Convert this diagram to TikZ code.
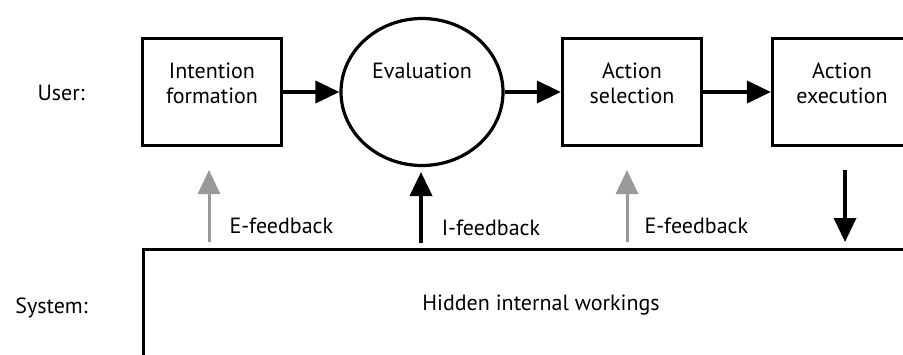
\documentclass[tikz,border=0pt]{standalone}
\usepackage{fontspec}
\setmainfont{PT Sans}
\usepackage{xcolor}
\usepackage{tikz}
\usetikzlibrary{shapes.geometric, arrows.meta, positioning}
\definecolor{fbgrey}{gray}{0.6}
\tikzstyle{stage} = [rectangle, minimum width=69.5pt, minimum height=53.5pt, text height=20.5pt, text depth=9.5pt, align=center, line width=1.6pt, draw=black]
\tikzstyle{judge} = [ellipse, minimum width=81pt, minimum height=73.5pt, text height=8pt, text depth=22pt, align=center, line width=1.6pt, draw=black]
\tikzstyle{hostbox} = [rectangle, anchor=north west, minimum width=450pt, minimum height=100pt, line width=1.6pt, draw=black]
\tikzstyle{rowlabel} = [anchor=base east, inner sep=0pt]
\tikzstyle{arrow} = [line width=1.8pt, -{Triangle[length=12pt, width=11pt]}]
\tikzstyle{fbarrow} = [line width=1.5pt, color=fbgrey, -{Triangle[length=12pt, width=11pt]}]
\tikzstyle{fblabel} = [anchor=base west, inner sep=0pt, xshift=9.5pt, text=black]

\begin{document}
\begin{tikzpicture}[x=0.5pt, y=-0.5pt, node distance=105pt, font=\fontsize{11pt}{12.5pt}\selectfont]
   \clip (0,0) rectangle (903,354);
   \node (form) [stage] at (212,92) {Intention\\formation};
   \node (eval) [judge, right of=form] {Evaluation};
   \node (sel) [stage, right of=eval] {Action\\selection};
   \node (exec) [stage, right of=sel] {Action\\execution};
   \node (sys) [hostbox] at (142,248) {};
   \node (userlbl) [rowlabel] at (85,100) {User:};
   \node (syslbl) [rowlabel] at (88,313) {System:};
   \node (hidden) [anchor=base] at (541,310) {Hidden internal workings};
   \draw [arrow] (form) -- (eval);
   \draw [arrow] (eval) -- (sel);
   \draw [arrow] (sel) -- (exec);
   % feedback from the system
   \coordinate (efbatail) at (209,242);
   \coordinate (efbatip) at (209,170);
   \coordinate (ifbtail) at (421,243);
   \coordinate (ifbtip) at (421,172);
   \coordinate (efbbtail) at (627,242);
   \coordinate (efbbtip) at (627,170);
   \coordinate (acttop) at (845,170);
   \coordinate (actend) at (845,242);
   \draw [fbarrow] (efbatail) -- (efbatip) node [fblabel, pos=0.125] (efbalbl) {E-feedback};
   \draw [arrow] (ifbtail) -- (ifbtip) node [fblabel, pos=0.1] (ifblbl) {I-feedback};
   \draw [fbarrow] (efbbtail) -- (efbbtip) node [fblabel, pos=0.125, xshift=-1.5pt] (efbblbl) {E-feedback};
   \draw [arrow] (acttop) -- (actend);
\end{tikzpicture}
\end{document}
